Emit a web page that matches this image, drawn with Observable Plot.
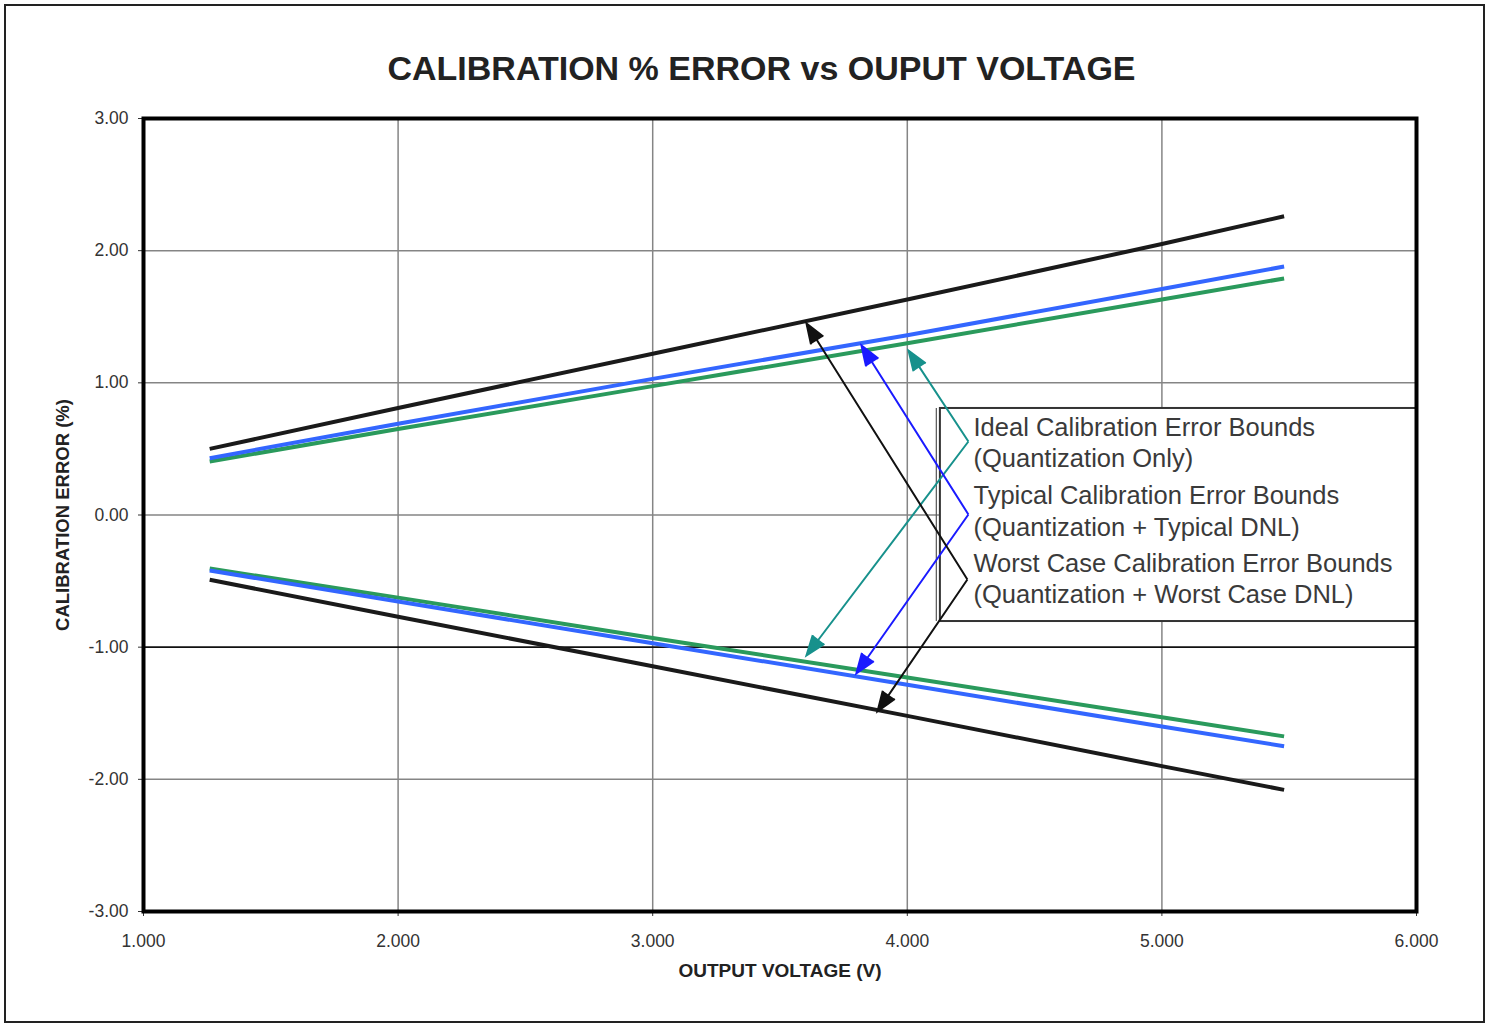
<!DOCTYPE html>
<html>
<head>
<meta charset="utf-8">
<script src="https://cdn.jsdelivr.net/npm/d3@7"></script>
<script src="https://cdn.jsdelivr.net/npm/@observablehq/plot@0.6"></script>
<style>
  html, body { margin: 0; padding: 0; background: #fff; }
  body { width: 1488px; height: 1025px; position: relative; overflow: hidden; font-family: "Liberation Sans", Arial, sans-serif; }
  #frame { position: absolute; left: 4px; top: 4px; width: 1481px; height: 1019px; border: 2px solid #222; box-sizing: border-box; }
  #title { position: absolute; top: 48px; left: 0; width: 1523px; text-align: center; font-size: 34px; line-height: 40px; font-weight: bold; color: #222; }
  #chart { position: absolute; left: 0; top: 100px; }
</style>
</head>
<body>
<div id="frame"></div>
<div id="title">CALIBRATION % ERROR vs OUPUT VOLTAGE</div>
<div id="chart"></div>
<script>
// ---- Data ----
const voltage     = [1.26, 2, 3, 4, 5, 5.48];
const worstUpper  = [0.50, 0.81, 1.22, 1.63, 2.05, 2.26];
const typUpper    = [0.43, 0.69, 1.03, 1.36, 1.71, 1.88];
const idealUpper  = [0.405, 0.65, 0.975, 1.30, 1.63, 1.79];
const idealLower  = [-0.405, -0.625, -0.93, -1.23, -1.53, -1.675];
const typLower    = [-0.42, -0.655, -0.97, -1.285, -1.60, -1.75];
const worstLower  = [-0.49, -0.77, -1.145, -1.52, -1.90, -2.08];

const seriesNames  = ["idealUpper", "idealLower", "typUpper", "typLower", "worstUpper", "worstLower"];
const seriesValues = [idealUpper, idealLower, typUpper, typLower, worstUpper, worstLower];
const seriesColors = ["#2a9a5c", "#2a9a5c", "#3366ff", "#3366ff", "#1a1a1a", "#1a1a1a"];

const xTicks = [1, 2, 3, 4, 5, 6];
const yTicks = [-3, -2, -1, 0, 1, 2, 3];

// Legend / annotation content
const legendLines = [
  "Ideal Calibration Error Bounds",
  "(Quantization Only)",
  "Typical Calibration Error Bounds",
  "(Quantization + Typical DNL)",
  "Worst Case Calibration Error Bounds",
  "(Quantization + Worst Case DNL)"
];
const legendTextX = 4.26;
const legendTextY = [0.662, 0.427, 0.148, -0.095, -0.367, -0.601];
const legendBox = {x1: 4.13, x2: 6.0, y1: -0.806, y2: 0.806};

const bracketColors = ["#17918c", "#1a1aff", "#111111"];
const bracketVertexX = [4.24, 4.24, 4.236];
const bracketVertexY = [0.556, 0.004, -0.488];
const upperTipX = [4.005, 3.82, 3.604];
const upperTipY = [1.244, 1.282, 1.449];
const lowerTipX = [3.604, 3.80, 3.883];
const lowerTipY = [-1.063, -1.199, -1.486];

// ---- Build tables ----
const lineData = [];
seriesNames.forEach((name, i) => {
  voltage.forEach((v, j) => lineData.push({series: name, color: seriesColors[i], x: v, y: seriesValues[i][j]}));
});
const arrows = [];
bracketColors.forEach((c, i) => {
  arrows.push({color: c, x1: bracketVertexX[i], y1: bracketVertexY[i], x2: upperTipX[i], y2: upperTipY[i]});
  arrows.push({color: c, x1: bracketVertexX[i], y1: bracketVertexY[i], x2: lowerTipX[i], y2: lowerTipY[i]});
});
const legendData = legendLines.map((t, i) => ({text: t, x: legendTextX, y: legendTextY[i]}));

const chart = Plot.plot({
  width: 1488,
  height: 900,
  marginLeft: 143,
  marginRight: 72,
  marginTop: 18,
  marginBottom: 89,
  style: {fontFamily: "'Liberation Sans', Arial, sans-serif", fontSize: "17px", color: "#333", background: "transparent"},
  x: {domain: [1, 6]},
  y: {domain: [-3, 3]},
  marks: [
    Plot.gridX(xTicks.filter(d => d > 1 && d < 6), {stroke: "#858585", strokeOpacity: 1, strokeWidth: 1.5}),
    Plot.gridY(yTicks.filter(d => d > -3 && d < 3 && d !== -1), {stroke: "#858585", strokeOpacity: 1, strokeWidth: 1.5}),
    Plot.ruleY([-1], {stroke: "#111", strokeWidth: 1.6}),
    Plot.axisX({ticks: xTicks, tickFormat: d => d.toFixed(3), tickSize: 5, tickPadding: 18, fontSize: 17.5, label: null, stroke: "#333"}),
    Plot.axisY({ticks: yTicks, tickFormat: d => d.toFixed(2), tickSize: 5, tickPadding: 10, fontSize: 17.5, label: null, stroke: "#333"}),
    Plot.text(["OUTPUT VOLTAGE (V)"], {frameAnchor: "bottom", dy: 65, text: d => d, fontWeight: "bold", fontSize: 19, fill: "#222"}),
    Plot.text(["CALIBRATION ERROR (%)"], {frameAnchor: "left", textAnchor: "middle", dx: -80, rotate: -90, text: d => d, fontWeight: "bold", fontSize: 18.5, fill: "#222"}),
    Plot.line(lineData, {x: "x", y: "y", z: "series", stroke: "color", strokeWidth: 4, strokeLinecap: "butt"}),
    Plot.rect([legendBox], {x1: "x1", x2: "x2", y1: "y1", y2: "y2", fill: "white", stroke: "#333", strokeWidth: 2}),
    Plot.ruleX([legendBox], {x: d => d.x1 - 0.016, y1: "y1", y2: "y2", stroke: "#555", strokeWidth: 1.2}),
    Plot.text(legendData, {x: "x", y: "y", text: "text", textAnchor: "start", fontSize: 25.5, fill: "#3a3a3a"}),
    Plot.arrow(arrows, {x1: "x1", y1: "y1", x2: "x2", y2: "y2", stroke: "color", fill: "color", strokeWidth: 2, headLength: 16, headAngle: 40, strokeLinecap: "butt", strokeMiterlimit: 4}),
    Plot.frame({stroke: "#000", strokeWidth: 4})
  ]
});
document.getElementById("chart").appendChild(chart);
</script>
</body>
</html>
